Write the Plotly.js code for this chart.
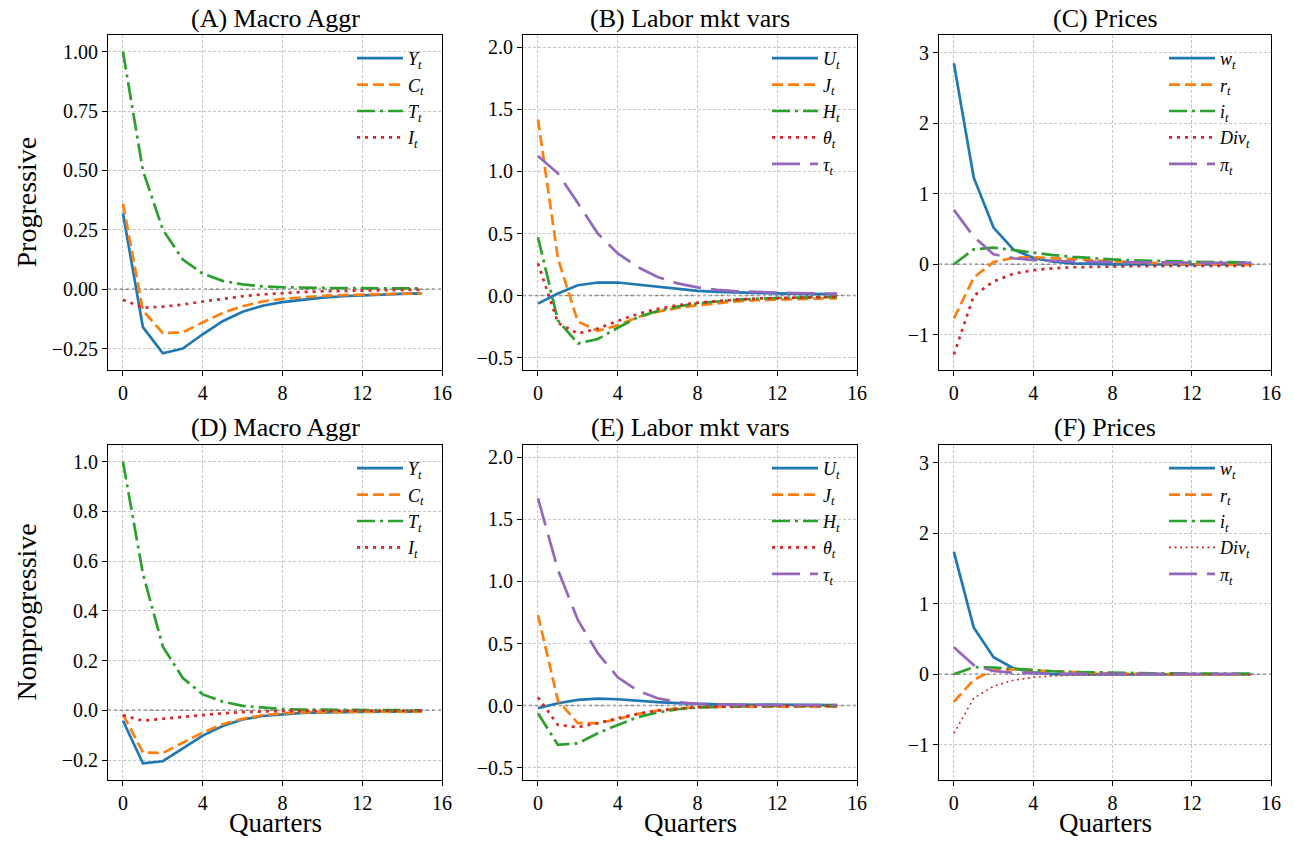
<!DOCTYPE html>
<html>
<head>
<meta charset="utf-8">
<script src="https://cdn.plot.ly/plotly-3.0.1.min.js"></script>
<style>
html,body{margin:0;padding:0;background:#fff;}
#chart{width:1294px;height:846px;}
</style>
</head>
<body>
<div id="chart"></div>
<script>
// ---------- data ----------
const quarters = [0,1,2,3,4,5,6,7,8,9,10,11,12,13,14,15];

const panelTitles = ["(A) Macro Aggr","(B) Labor mkt vars","(C) Prices","(D) Macro Aggr","(E) Labor mkt vars","(F) Prices"];
const rowLabels = ["Progressive","Nonprogressive"];
const xLabel = "Quarters";

const macroNames = ["<i>Y<sub>t</sub></i>","<i>C<sub>t</sub></i>","<i>T<sub>t</sub></i>","<i>I<sub>t</sub></i>"];
const laborNames = ["<i>U<sub>t</sub></i>","<i>J<sub>t</sub></i>","<i>H<sub>t</sub></i>","<i>θ<sub>t</sub></i>","<i>τ<sub>t</sub></i>"];
const priceNames = ["<i>w<sub>t</sub></i>","<i>r<sub>t</sub></i>","<i>i<sub>t</sub></i>","<i>Div<sub>t</sub></i>","<i>π<sub>t</sub></i>"];

// (A) Progressive macro aggregates
const A_Y = [0.32,-0.16,-0.27,-0.25,-0.19,-0.135,-0.095,-0.07,-0.055,-0.044,-0.036,-0.03,-0.026,-0.022,-0.02,-0.018];
const A_C = [0.36,-0.09,-0.185,-0.182,-0.14,-0.1,-0.072,-0.052,-0.041,-0.033,-0.028,-0.025,-0.022,-0.02,-0.019,-0.018];
const A_T = [1.0,0.5,0.25,0.125,0.065,0.035,0.02,0.012,0.008,0.006,0.005,0.004,0.004,0.003,0.003,0.003];
const A_I = [-0.045,-0.078,-0.074,-0.065,-0.052,-0.04,-0.03,-0.022,-0.016,-0.012,-0.009,-0.007,-0.005,-0.004,-0.003,-0.003];
// (B) Progressive labor market
const B_U = [-0.065,0.016,0.083,0.105,0.105,0.088,0.068,0.05,0.038,0.03,0.024,0.02,0.017,0.014,0.012,0.011];
const B_J = [1.42,0.3,-0.21,-0.285,-0.24,-0.175,-0.13,-0.1,-0.078,-0.06,-0.047,-0.038,-0.032,-0.027,-0.024,-0.022];
const B_H = [0.47,-0.2,-0.387,-0.35,-0.26,-0.175,-0.125,-0.088,-0.062,-0.045,-0.033,-0.025,-0.019,-0.016,-0.013,-0.011];
const B_Theta = [0.26,-0.22,-0.306,-0.266,-0.205,-0.148,-0.107,-0.078,-0.058,-0.043,-0.032,-0.024,-0.019,-0.015,-0.012,-0.01];
const B_Tau = [1.125,0.985,0.745,0.5,0.34,0.23,0.15,0.098,0.066,0.046,0.034,0.027,0.022,0.019,0.017,0.016];
// (C) Progressive prices
const C_w = [2.85,1.23,0.52,0.21,0.09,0.035,0.012,0.003,-0.002,-0.004,-0.005,-0.005,-0.004,-0.004,-0.003,-0.003];
const C_r = [-0.77,-0.19,0.03,0.09,0.1,0.085,0.068,0.052,0.038,0.027,0.018,0.01,0.004,0.0,-0.004,-0.006];
const C_i = [0.0,0.21,0.235,0.2,0.16,0.13,0.105,0.085,0.068,0.056,0.047,0.04,0.035,0.031,0.028,0.026];
const C_Div = [-1.28,-0.45,-0.245,-0.135,-0.085,-0.058,-0.043,-0.035,-0.03,-0.028,-0.026,-0.025,-0.025,-0.024,-0.024,-0.024];
const C_pi = [0.77,0.39,0.14,0.085,0.058,0.045,0.038,0.033,0.029,0.026,0.024,0.022,0.021,0.02,0.02,0.02];
// (D) Nonprogressive macro aggregates
const D_Y = [-0.042,-0.213,-0.205,-0.155,-0.102,-0.063,-0.037,-0.023,-0.015,-0.01,-0.008,-0.006,-0.005,-0.005,-0.005,-0.005];
const D_C = [-0.016,-0.17,-0.172,-0.131,-0.089,-0.056,-0.034,-0.02,-0.012,-0.008,-0.006,-0.005,-0.005,-0.005,-0.005,-0.005];
const D_T = [1.0,0.55,0.256,0.13,0.064,0.035,0.018,0.01,0.005,0.003,0.002,0.001,0.001,0.001,0.0,0.0];
const D_I = [-0.02,-0.042,-0.034,-0.026,-0.018,-0.012,-0.007,-0.004,-0.003,-0.002,-0.002,-0.001,-0.001,-0.001,-0.001,-0.001];
// (E) Nonprogressive labor market
const E_U = [-0.022,0.019,0.046,0.056,0.051,0.038,0.027,0.019,0.013,0.01,0.008,0.006,0.005,0.004,0.004,0.003];
const E_J = [0.73,0.04,-0.142,-0.142,-0.11,-0.067,-0.04,-0.022,-0.013,-0.01,-0.009,-0.008,-0.008,-0.008,-0.008,-0.008];
const E_H = [-0.062,-0.317,-0.304,-0.223,-0.156,-0.094,-0.056,-0.03,-0.016,-0.009,-0.006,-0.004,-0.003,-0.003,-0.003,-0.003];
const E_Theta = [0.067,-0.156,-0.175,-0.142,-0.102,-0.067,-0.04,-0.024,-0.013,-0.008,-0.005,-0.004,-0.003,-0.003,-0.003,-0.003];
const E_Tau = [1.67,1.094,0.69,0.422,0.228,0.121,0.059,0.027,0.013,0.008,0.006,0.005,0.004,0.004,0.004,0.004];
// (F) Nonprogressive prices
const F_w = [1.735,0.664,0.24,0.085,0.028,0.002,-0.004,-0.005,-0.005,-0.004,-0.004,-0.003,-0.003,-0.003,-0.002,-0.002];
const F_r = [-0.39,-0.08,0.06,0.07,0.055,0.04,0.028,0.018,0.01,0.005,0.002,0.0,-0.002,-0.003,-0.003,-0.003];
const F_i = [0.0,0.1,0.095,0.075,0.055,0.042,0.032,0.025,0.02,0.016,0.013,0.011,0.01,0.009,0.008,0.008];
const F_Div = [-0.84,-0.34,-0.17,-0.085,-0.045,-0.024,-0.014,-0.009,-0.006,-0.005,-0.004,-0.004,-0.004,-0.004,-0.004,-0.004];
const F_pi = [0.384,0.13,0.045,0.022,0.012,0.008,0.006,0.005,0.004,0.004,0.004,0.004,0.004,0.004,0.004,0.004];

const xTicks = [0,4,8,12,16];

// ---------- styling ----------
const W = 1294, H = 846;
const px = v => v / W;
const py = v => 1 - v / H;
const FONT = "Liberation Serif";
const LW = 2.7;
const styles = [
  {color:"#1f77b4", dash:"solid"},
  {color:"#ff7f0e", dash:"11px,5px"},
  {color:"#2ca02c", dash:"18px,5px,3px,5px"},
  {color:"#d62728", dash:"3px,5px"},
  {color:"#9467bd", dash:"28px,10px"}
];

// plot areas in pixels
const cols = [[108,442],[523,857],[939,1271]];
const rows = [[35,370],[445,780]];
const legendLeft = [352,767,1164];
const yRanges = [null,[-0.6,2.1],[-1.5,3.25],null,[-0.6,2.1],[-1.5,3.25]];
const yDticks = [0.25,0.5,1,0.2,0.5,1];
const yFormats = [".2f",".1f","d",".1f",".1f","d"];

const panelSeries = [
  [A_Y,A_C,A_T,A_I],
  [B_U,B_J,B_H,B_Theta,B_Tau],
  [C_w,C_r,C_i,C_Div,C_pi],
  [D_Y,D_C,D_T,D_I],
  [E_U,E_J,E_H,E_Theta,E_Tau],
  [F_w,F_r,F_i,F_Div,F_pi]
];
const panelNames = [macroNames,laborNames,priceNames,macroNames,laborNames,priceNames];

const traces = [];
const layout = {
  width: W, height: H,
  margin: {l:0,r:0,t:0,b:0},
  paper_bgcolor: "#fff", plot_bgcolor: "#fff",
  font: {family: FONT, color: "#000", size: 20},
  showlegend: true,
  annotations: [], shapes: []
};

for (let p = 0; p < 6; p++) {
  const r = Math.floor(p / 3), c = p % 3;
  const ax = p === 0 ? "" : String(p + 1);
  const xa = "x" + ax, ya = "y" + ax;
  const legName = p === 0 ? "legend" : "legend" + (p + 1);
  panelSeries[p].forEach((vals, k) => {
    const st = styles[k];
    let width = LW, dash = st.dash;
    if (p === 5 && k === 3) { width = 1.6; dash = "2px,3.5px"; }
    traces.push({
      x: quarters, y: vals, type: "scatter", mode: "lines",
      name: panelNames[p][k], xaxis: xa, yaxis: ya, legend: legName,
      line: {color: st.color, width: width, dash: dash},
      hoverinfo: "skip"
    });
  });
  const axCommon = {
    showgrid: true, gridcolor: "#b8b8b8", griddash: "3px,2px", gridwidth: 0.8,
    showline: true, mirror: true, linecolor: "#000", linewidth: 1,
    ticks: "outside", ticklen: 5, tickwidth: 1, tickcolor: "#000",
    tickfont: {family: FONT, size: 20, color: "#000"}, zeroline: false
  };
  layout["xaxis" + ax] = Object.assign({}, axCommon, {
    domain: [px(cols[c][0]), px(cols[c][1])], anchor: ya,
    range: [-0.75, 16], tickmode: "array", tickvals: xTicks
  });
  const yAx = Object.assign({}, axCommon, {
    domain: [py(rows[r][1]), py(rows[r][0])], anchor: xa,
    dtick: yDticks[p], tick0: 0, tickformat: yFormats[p]
  });
  if (yRanges[p]) yAx.range = yRanges[p]; else yAx.autorange = true;
  layout["yaxis" + ax] = yAx;

  // dotted zero reference line
  layout.shapes.push({type:"line", xref: xa + " domain", x0:0, x1:1, yref: ya, y0:0, y1:0,
    line:{color:"#7f7f7f", width:1.5, dash:"dot"}, layer:"below"});

  // panel title
  layout.annotations.push({text: panelTitles[p], xref:"paper", yref:"paper",
    x: px((cols[c][0] + cols[c][1]) / 2), y: py(rows[r][0] - 17),
    xanchor:"center", yanchor:"middle", showarrow:false, font:{family:FONT, size:26, color:"#000"}});

  // legend
  layout[legName] = {
    x: px(legendLeft[c]), y: py(rows[r][0] + 5),
    xanchor:"left", yanchor:"top", bgcolor:"rgba(0,0,0,0)", borderwidth:0,
    font:{family:FONT, size:18, color:"#000"}, itemwidth: 46, tracegroupgap: 0
  };
}

// row labels
rowLabels.forEach((t, r) => {
  layout.annotations.push({text: t, xref:"paper", yref:"paper", x: px(26), y: py((rows[r][0]+rows[r][1])/2),
    xanchor:"center", yanchor:"middle", textangle:-90, showarrow:false, font:{family:FONT, size:28, color:"#000"}});
});
// x labels under bottom row
cols.forEach(cc => {
  layout.annotations.push({text: xLabel, xref:"paper", yref:"paper", x: px((cc[0]+cc[1])/2), y: py(823),
    xanchor:"center", yanchor:"middle", showarrow:false, font:{family:FONT, size:27, color:"#000"}});
});

Plotly.newPlot("chart", traces, layout, {staticPlot: true, displayModeBar: false});
</script>
</body>
</html>
